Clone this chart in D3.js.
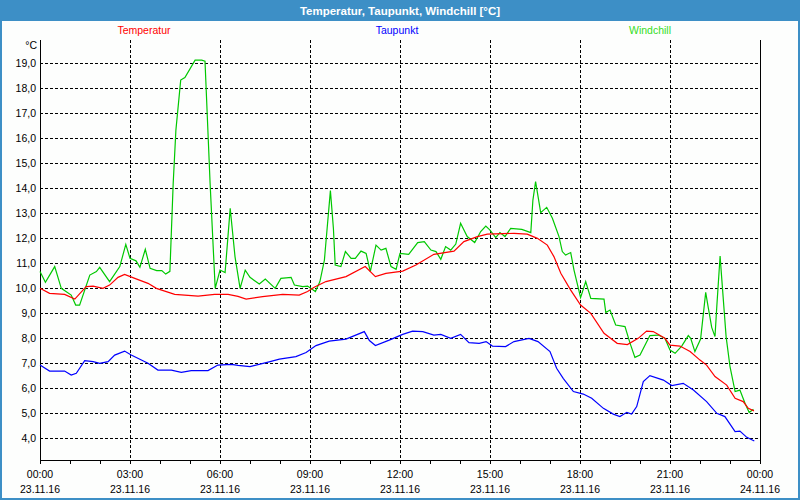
<!DOCTYPE html>
<html><head><meta charset="utf-8">
<script src="https://cdn.jsdelivr.net/npm/d3@7"></script>
<style>
html,body{margin:0;padding:0;background:#fff;}
svg text{font-family:"Liberation Sans",Arial,sans-serif;}
</style></head>
<body><svg id="c" width="800" height="500"></svg>
<script>
const titleText = "Temperatur, Taupunkt, Windchill [°C]";
const seriesNames = ["Temperatur", "Taupunkt", "Windchill"];
const seriesColors = ["#ff0000", "#0000ff", "#00c800"];
const legendColors = ["#ff0000", "#0000ff", "#33dd22"];
const yTicks = [4,5,6,7,8,9,10,11,12,13,14,15,16,17,18,19];
const xTickHours = [0,3,6,9,12,15,18,21,24];
const timeLabels = ["00:00","03:00","06:00","09:00","12:00","15:00","18:00","21:00","00:00"];
const dateLabels = ["23.11.16","23.11.16","23.11.16","23.11.16","23.11.16","23.11.16","23.11.16","23.11.16","24.11.16"];

const temperatur = [[0,10.0],[0.32,9.8],[0.82,9.76],[1.16,9.57],[1.54,10.07],[1.77,10.09],[2.1,10.0],[2.32,10.13],[2.6,10.44],[2.82,10.56],[3.16,10.4],[3.6,10.2],[3.88,10.0],[4.21,9.87],[4.49,9.76],[5.27,9.69],[5.82,9.76],[6.27,9.76],[6.6,9.68],[6.87,9.57],[7.42,9.67],[8.09,9.76],[8.64,9.73],[8.92,9.87],[9.14,10.04],[9.53,10.27],[10.2,10.47],[10.84,10.87],[11.18,10.47],[11.53,10.6],[12.09,10.69],[12.53,10.93],[13.13,11.36],[13.8,11.49],[14.13,11.87],[14.58,12.07],[14.91,12.17],[15.8,12.2],[16.24,12.17],[16.58,12.0],[16.91,11.73],[17.13,11.27],[17.36,10.6],[17.69,9.93],[18.02,9.33],[18.36,9.0],[18.8,8.2],[19.24,7.8],[19.58,7.75],[19.94,8.0],[20.22,8.29],[20.44,8.27],[20.83,8.0],[21.0,7.73],[21.33,7.69],[21.67,7.47],[22.0,7.13],[22.22,6.93],[22.5,6.47],[22.89,6.13],[23.17,5.6],[23.44,5.47],[23.61,5.2],[23.8,5.1]];

const taupunkt = [[0,6.93],[0.32,6.69],[0.82,6.69],[1.04,6.53],[1.21,6.6],[1.49,7.11],[1.77,7.07],[1.99,7.0],[2.27,7.07],[2.49,7.33],[2.82,7.49],[3.04,7.33],[3.6,7.0],[3.93,6.73],[4.38,6.73],[4.71,6.64],[5.04,6.71],[5.6,6.71],[5.93,6.93],[6.38,6.96],[6.6,6.92],[7.0,6.87],[7.67,7.07],[7.98,7.17],[8.53,7.27],[8.87,7.43],[9.2,7.71],[9.64,7.89],[10.2,7.97],[10.81,8.27],[10.98,7.91],[11.18,7.71],[11.64,7.93],[12.09,8.16],[12.42,8.29],[12.76,8.27],[13.13,8.13],[13.36,8.16],[13.69,8.0],[14.02,8.16],[14.3,7.83],[14.64,7.8],[14.87,7.87],[15.08,7.69],[15.52,7.67],[15.8,7.87],[16.3,8.0],[16.6,7.87],[17.0,7.47],[17.22,6.8],[17.44,6.4],[17.78,5.87],[18.11,5.77],[18.39,5.6],[18.78,5.2],[19.11,4.97],[19.33,4.87],[19.56,5.04],[19.72,4.97],[19.89,5.27],[20.11,6.27],[20.33,6.51],[20.78,6.33],[21.06,6.11],[21.44,6.2],[21.78,5.93],[22.22,5.47],[22.56,5.0],[22.83,4.87],[23.17,4.27],[23.33,4.29],[23.56,4.04],[23.81,3.89]];

const windchill = [[0,10.67],[0.18,10.24],[0.49,10.87],[0.71,10.0],[1.04,9.73],[1.19,9.33],[1.32,9.33],[1.66,10.53],[1.88,10.67],[1.99,10.84],[2.32,10.27],[2.66,10.87],[2.86,11.76],[3.0,11.2],[3.2,11.1],[3.33,10.84],[3.51,11.56],[3.67,10.8],[3.89,10.71],[4.06,10.71],[4.19,10.57],[4.33,10.68],[4.44,14.2],[4.53,16.33],[4.69,18.33],[4.83,18.43],[5.17,19.13],[5.39,19.13],[5.5,19.09],[5.67,14.2],[5.84,10.0],[6.0,10.73],[6.17,10.63],[6.34,13.2],[6.5,11.27],[6.67,10.0],[6.84,10.73],[7.0,10.44],[7.31,10.17],[7.51,10.37],[7.84,10.0],[8.03,10.4],[8.37,10.44],[8.48,10.13],[8.76,10.07],[8.92,10.09],[9.18,9.87],[9.33,10.27],[9.48,11.13],[9.68,13.91],[9.78,12.4],[9.84,10.93],[10.03,10.87],[10.18,11.47],[10.37,11.2],[10.51,11.2],[10.7,11.49],[10.87,11.4],[11.01,10.67],[11.2,11.73],[11.37,11.53],[11.53,11.6],[11.7,10.87],[11.87,10.76],[12.0,11.4],[12.29,11.36],[12.59,11.83],[12.81,11.87],[13.03,11.53],[13.2,11.47],[13.36,11.16],[13.52,11.67],[13.69,11.53],[13.86,11.77],[14.02,12.6],[14.24,12.07],[14.49,11.83],[14.69,12.27],[14.86,12.49],[15.0,12.33],[15.19,12.03],[15.33,12.23],[15.5,12.07],[15.69,12.4],[16.06,12.36],[16.36,12.23],[16.43,13.53],[16.52,14.27],[16.69,13.03],[16.89,13.24],[17.08,12.8],[17.3,12.07],[17.41,11.47],[17.52,11.33],[17.69,11.43],[17.8,10.73],[18.02,9.63],[18.19,10.27],[18.36,9.6],[18.8,9.57],[18.86,9.03],[19.0,9.13],[19.19,8.53],[19.5,8.47],[19.67,7.8],[19.83,7.24],[20.0,7.33],[20.33,8.11],[20.61,8.13],[20.83,8.0],[21.0,7.53],[21.17,7.4],[21.39,7.69],[21.61,8.11],[21.69,8.0],[21.83,7.47],[22.02,7.97],[22.19,9.84],[22.28,9.2],[22.39,8.44],[22.5,8.07],[22.56,9.27],[22.67,11.29],[22.72,10.47],[22.87,8.07],[23.0,6.87],[23.17,5.87],[23.33,5.93],[23.5,5.4],[23.64,5.03],[23.78,5.16]];

const svg = d3.select("#c");
const W = 800, H = 500;
const L = 40, R = 760, T = 40, B = 460;
const x = d3.scaleLinear().domain([0, 24]).range([L, R]);
const y = d3.scaleLinear().domain([3.1333, 19.9333]).range([B, T]);

// background + frame
svg.append("rect").attr("x",0).attr("y",0).attr("width",W).attr("height",H).attr("fill","#fdfefd");
svg.append("rect").attr("x",0).attr("y",0).attr("width",W).attr("height",21).attr("fill","#3d8fc6");
svg.append("rect").attr("x",1).attr("y",1).attr("width",W-2).attr("height",H-2)
  .attr("fill","none").attr("stroke","#3d8fc6").attr("stroke-width",2);
svg.append("text").attr("x",W/2).attr("y",14.5).attr("text-anchor","middle")
  .attr("fill","#ffffff").attr("font-weight","bold").attr("font-size","11.5px").text(titleText);

// legend
const legendX = [144, 397, 650];
seriesNames.forEach((n,i)=>{
  svg.append("text").attr("x",legendX[i]).attr("y",34).attr("text-anchor","middle")
    .attr("fill",legendColors[i]).attr("font-size","10.5px").text(n);
});

// gridlines
const g = svg.append("g").attr("shape-rendering","crispEdges");
g.selectAll(".hg").data(yTicks).enter().append("line")
  .attr("x1",L).attr("x2",R).attr("y1",d=>Math.round(y(d))+0.5).attr("y2",d=>Math.round(y(d))+0.5)
  .attr("stroke","#000").attr("stroke-dasharray","3,2");
g.selectAll(".vg").data(xTickHours.slice(1,-1)).enter().append("line")
  .attr("y1",T).attr("y2",B).attr("x1",d=>Math.round(x(d))+0.5).attr("x2",d=>Math.round(x(d))+0.5)
  .attr("stroke","#000").attr("stroke-dasharray","3,2");

// axes
const xAxis = d3.axisBottom(x).tickValues(d3.range(0,25,1)).tickSize(3).tickFormat("");
const ax = svg.append("g").attr("transform",`translate(0,${B+0.5})`).call(xAxis);
ax.select(".domain").attr("stroke","#000").attr("d",`M${L},0H${R+1}`);
ax.selectAll(".tick line").attr("stroke","#000").attr("shape-rendering","crispEdges");
ax.selectAll(".tick").attr("transform",d=>`translate(${Math.round(x(d))+0.5},0)`);

svg.append("line").attr("x1",L+0.5).attr("x2",L+0.5).attr("y1",T).attr("y2",B+1).attr("stroke","#000").attr("shape-rendering","crispEdges");
svg.append("line").attr("x1",R+0.5).attr("x2",R+0.5).attr("y1",T).attr("y2",B+1).attr("stroke","#000").attr("shape-rendering","crispEdges");

const yAxis = d3.axisLeft(y).tickValues(yTicks).tickSize(0).tickPadding(4)
  .tickFormat(d=>d3.format(".1f")(d).replace(".",","));
const ay = svg.append("g").attr("transform",`translate(${L},0)`).call(yAxis);
ay.select(".domain").remove();
ay.selectAll("text").attr("font-family","Liberation Sans, Arial, sans-serif").attr("font-size","10.5px").attr("fill","#000");
svg.append("text").attr("x",37).attr("y",49).attr("text-anchor","end").attr("font-size","10.5px").attr("fill","#000").text("°C");

// x labels
xTickHours.forEach((h,i)=>{
  svg.append("text").attr("x",x(h)).attr("y",478).attr("text-anchor","middle").attr("font-size","10.5px").attr("fill","#000").text(timeLabels[i]);
  svg.append("text").attr("x",x(h)).attr("y",493).attr("text-anchor","middle").attr("font-size","10.5px").attr("fill","#000").text(dateLabels[i]);
});

// lines
const line = d3.line().x(d=>x(d[0])).y(d=>y(d[1]));
[windchill, temperatur, taupunkt].forEach((s,i)=>{
  const col = [seriesColors[2], seriesColors[0], seriesColors[1]][i];
  svg.append("path").datum(s).attr("d",line).attr("fill","none").attr("stroke",col).attr("stroke-width",1.2);
});
</script></body></html>
